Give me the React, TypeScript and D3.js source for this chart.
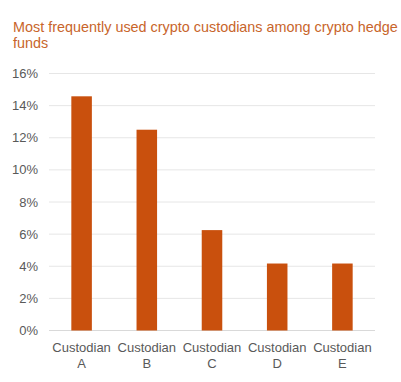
import React from "react";
import * as d3 from "d3";

const categories = ["Custodian A", "Custodian B", "Custodian C", "Custodian D", "Custodian E"];
const values = [14.58, 12.5, 6.25, 4.17, 4.17];
const yTicks = [0, 2, 4, 6, 8, 10, 12, 14, 16];
const titleLines = ["Most frequently used crypto custodians among crypto hedge", "funds"];

export default function App() {
  const W = 401, H = 382;
  const left = 49, right = 375, top = 73.5, bottom = 330.5;
  const x = d3.scaleBand<string>().domain(categories).range([left, right]).paddingInner(0.685).paddingOuter(0.3425);
  const y = d3.scaleLinear().domain([0, 16]).range([bottom, top]);
  const font = "Liberation Sans, Arial, sans-serif";
  return (
    <svg width={W} height={H} style={{ position: "absolute", left: 0, top: 0, background: "#fff" }}>
      {titleLines.map((t, i) => (
        <text key={i} x={13} y={32 + i * 15.5} fontFamily={font} fontSize={14.4} fill="#c8652b">{t}</text>
      ))}
      {yTicks.map((t) => (
        <g key={t}>
          <line x1={left} x2={right} y1={y(t)} y2={y(t)} stroke={t === 0 ? "#d9d9d9" : "#e6e6e6"} strokeWidth={1} />
          <text x={38} y={y(t) + 4.5} textAnchor="end" fontFamily={font} fontSize={13} fill="#595959">{t}%</text>
        </g>
      ))}
      {categories.map((c, i) => (
        <rect key={c} x={x(c)} y={y(values[i])} width={x.bandwidth()} height={y(0) - y(values[i])} fill="#c9500d" />
      ))}
      {categories.map((c) => {
        const parts = c.split(" ");
        const cx = (x(c) as number) + x.bandwidth() / 2;
        return (
          <text key={c} textAnchor="middle" fontFamily={font} fontSize={13} fill="#595959">
            <tspan x={cx} y={352}>{parts[0]}</tspan>
            <tspan x={cx} y={368}>{parts[1]}</tspan>
          </text>
        );
      })}
    </svg>
  );
}
